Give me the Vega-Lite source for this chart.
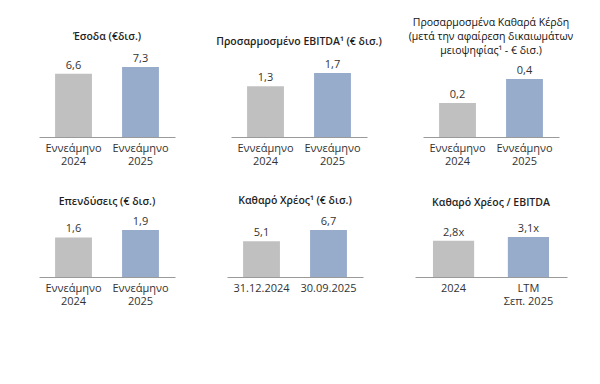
{
  "$schema": "https://vega.github.io/schema/vega-lite/v6.json",
  "padding": {"left": 39, "top": 17, "right": 5, "bottom": 5},
  "background": "white",
  "config": {
    "view": {"stroke": null},
    "font": "Open Sans",
    "title": {"fontSize": 10.5, "fontWeight": 600, "color": "#1f1f1f", "anchor": "middle", "baseline": "bottom", "lineHeight": 14, "frame": "group"},
    "axisX": {"title": null, "labelAngle": 0, "ticks": false, "domainColor": "#9a9a9a", "domainWidth": 1, "labelColor": "#333333", "labelFontSize": 11, "labelLineHeight": 13.5, "labelPadding": 5, "labelExpr": "split(datum.label, '|')"},
    "text": {"fontSize": 11, "color": "#333333", "baseline": "bottom", "dy": -3},
    "bar": {}
  },
  "datasets": {
    "d": [
      {"panel": 1, "cat": "Εννεάμηνο|2024", "value": 6.6, "label": "6,6", "series": "a"},
      {"panel": 1, "cat": "Εννεάμηνο|2025", "value": 7.3, "label": "7,3", "series": "b"},
      {"panel": 2, "cat": "Εννεάμηνο|2024", "value": 1.35, "label": "1,3", "series": "a"},
      {"panel": 2, "cat": "Εννεάμηνο|2025", "value": 1.7, "label": "1,7", "series": "b"},
      {"panel": 3, "cat": "Εννεάμηνο|2024", "value": 0.234, "label": "0,2", "series": "a"},
      {"panel": 3, "cat": "Εννεάμηνο|2025", "value": 0.4, "label": "0,4", "series": "b"},
      {"panel": 4, "cat": "Εννεάμηνο|2024", "value": 1.6, "label": "1,6", "series": "a"},
      {"panel": 4, "cat": "Εννεάμηνο|2025", "value": 1.9, "label": "1,9", "series": "b"},
      {"panel": 5, "cat": "31.12.2024", "value": 5.1, "label": "5,1", "series": "a"},
      {"panel": 5, "cat": "30.09.2025", "value": 6.7, "label": "6,7", "series": "b"},
      {"panel": 6, "cat": "2024", "value": 2.8, "label": "2,8x", "series": "a"},
      {"panel": 6, "cat": "LTM|Σεπ. 2025", "value": 3.1, "label": "3,1x", "series": "b"}
    ]
  },
  "spacing": 29,
  "vconcat": [
    {
      "bounds": "flush",
      "spacing": 56,
      "hconcat": [
        {
          "width": 136, "height": 80,
          "title": {"text": "Έσοδα (€δισ.)", "offset": 10},
          "data": {"name": "d"},
          "transform": [{"filter": "datum.panel == 1"}],
          "encoding": {
            "x": {"field": "cat", "type": "nominal", "sort": null, "scale": {"paddingInner": 0.45, "paddingOuter": 0.24}},
            "y": {"field": "value", "type": "quantitative", "scale": {"domain": [0, 8.34]}, "axis": null}
          },
          "layer": [
            {"mark": "bar", "encoding": {"color": {"field": "series", "type": "nominal", "scale": {"domain": ["a", "b"], "range": ["#c0c0c0", "#97abca"]}, "legend": null}}},
            {"mark": "text", "encoding": {"text": {"field": "label"}}}
          ]
        },
        {
          "width": 136, "height": 80,
          "title": {"text": "Προσαρμοσμένο EBITDA¹ (€ δισ.)", "offset": 10},
          "data": {"name": "d"},
          "transform": [{"filter": "datum.panel == 2"}],
          "encoding": {
            "x": {"field": "cat", "type": "nominal", "sort": null, "scale": {"paddingInner": 0.45, "paddingOuter": 0.24}},
            "y": {"field": "value", "type": "quantitative", "scale": {"domain": [0, 2.125]}, "axis": null}
          },
          "layer": [
            {"mark": "bar", "encoding": {"color": {"field": "series", "type": "nominal", "scale": {"domain": ["a", "b"], "range": ["#c0c0c0", "#97abca"]}, "legend": null}}},
            {"mark": "text", "encoding": {"text": {"field": "label"}}}
          ]
        },
        {
          "width": 136, "height": 80,
          "title": {"text": ["Προσαρμοσμένα Καθαρά Κέρδη", "(μετά την αφαίρεση δικαιωμάτων", "μειοψηφίας¹ - € δισ.)"], "offset": 1, "fontWeight": 400, "color": "#111111"},
          "data": {"name": "d"},
          "transform": [{"filter": "datum.panel == 3"}],
          "encoding": {
            "x": {"field": "cat", "type": "nominal", "sort": null, "scale": {"paddingInner": 0.45, "paddingOuter": 0.24}},
            "y": {"field": "value", "type": "quantitative", "scale": {"domain": [0, 0.552]}, "axis": null}
          },
          "layer": [
            {"mark": "bar", "encoding": {"color": {"field": "series", "type": "nominal", "scale": {"domain": ["a", "b"], "range": ["#c0c0c0", "#97abca"]}, "legend": null}}},
            {"mark": "text", "encoding": {"text": {"field": "label"}}}
          ]
        }
      ]
    },
    {
      "bounds": "flush",
      "spacing": 52,
      "hconcat": [
        {
          "width": 136, "height": 60,
          "title": {"text": "Επενδύσεις (€ δισ.)", "offset": 9},
          "data": {"name": "d"},
          "transform": [{"filter": "datum.panel == 4"}],
          "encoding": {
            "x": {"field": "cat", "type": "nominal", "sort": null, "scale": {"paddingInner": 0.45, "paddingOuter": 0.24}},
            "y": {"field": "value", "type": "quantitative", "scale": {"domain": [0, 2.426]}, "axis": null}
          },
          "layer": [
            {"mark": "bar", "encoding": {"color": {"field": "series", "type": "nominal", "scale": {"domain": ["a", "b"], "range": ["#c0c0c0", "#97abca"]}, "legend": null}}},
            {"mark": "text", "encoding": {"text": {"field": "label"}}}
          ]
        },
        {
          "width": 136, "height": 60,
          "title": {"text": "Καθαρό Χρέος¹ (€ δισ.)", "offset": 9},
          "data": {"name": "d"},
          "transform": [{"filter": "datum.panel == 5"}],
          "encoding": {
            "x": {"field": "cat", "type": "nominal", "sort": null, "scale": {"paddingInner": 0.45, "paddingOuter": 0.24}},
            "y": {"field": "value", "type": "quantitative", "scale": {"domain": [0, 8.553]}, "axis": null}
          },
          "layer": [
            {"mark": "bar", "encoding": {"color": {"field": "series", "type": "nominal", "scale": {"domain": ["a", "b"], "range": ["#c0c0c0", "#97abca"]}, "legend": null}}},
            {"mark": "text", "encoding": {"text": {"field": "label"}}}
          ]
        },
        {
          "width": 152, "height": 60,
          "title": {"text": "Καθαρό Χρέος / EBITDA", "offset": 9},
          "data": {"name": "d"},
          "transform": [{"filter": "datum.panel == 6"}],
          "encoding": {
            "x": {"field": "cat", "type": "nominal", "sort": null, "scale": {"paddingInner": 0.45, "paddingOuter": 0.24}},
            "y": {"field": "value", "type": "quantitative", "scale": {"domain": [0, 4.65]}, "axis": null}
          },
          "layer": [
            {"mark": "bar", "encoding": {"color": {"field": "series", "type": "nominal", "scale": {"domain": ["a", "b"], "range": ["#c0c0c0", "#97abca"]}, "legend": null}}},
            {"mark": "text", "encoding": {"text": {"field": "label"}}}
          ]
        }
      ]
    }
  ]
}
